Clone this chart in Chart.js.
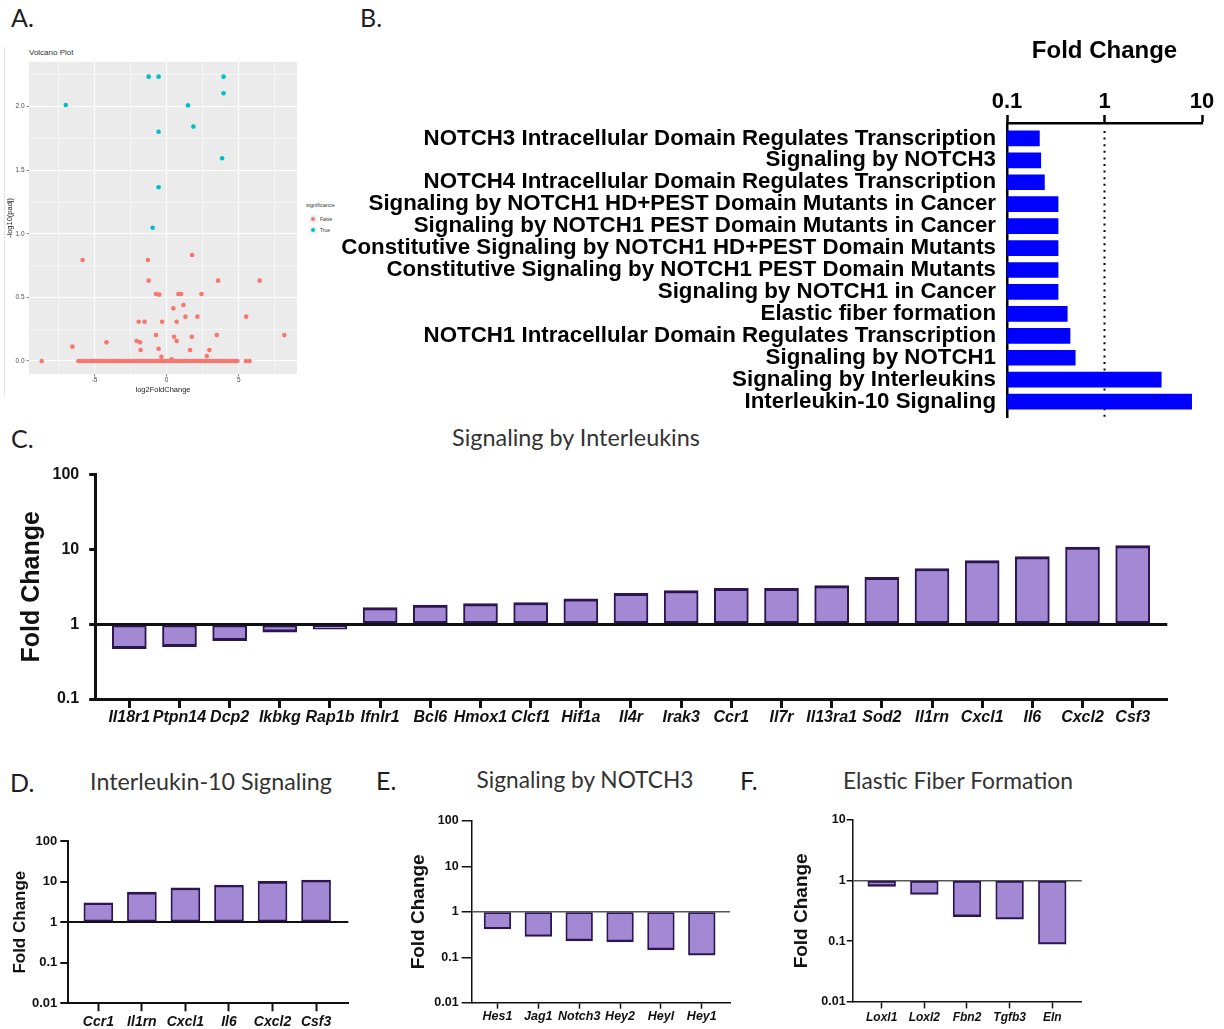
<!DOCTYPE html>
<html>
<head>
<meta charset="utf-8">
<title>Fold change panels</title>
<script src="https://cdn.jsdelivr.net/npm/chart.js@4.4.1/dist/chart.umd.min.js"></script>
<style>
  body { margin: 0; background: #fff; }
  #page { position: relative; width: 1224px; height: 1029px; overflow: hidden; }
  canvas { position: absolute; }
  .lbl { position: absolute; white-space: nowrap; line-height: 1; font-family: Lato, "Open Sans", sans-serif; color: #1e1e1e; }
  .letter { font-size: 25px; transform: translateY(-50%); }
  .head { font-size: 21px; color: #333; transform: translate(-50%, -50%); }
  .gg { font-family: "Liberation Sans", Arial, sans-serif; color: #333; transform: translateY(-50%); }
  .key { position: absolute; width: 8px; height: 8px; background: #f2f2f2; }
  .key i { position: absolute; left: 2px; top: 2px; width: 4px; height: 4px; border-radius: 50%; }
</style>
</head>
<body>
<div id="page">
  <div class="lbl letter" style="left:11px;top:17px">A.</div>
  <div class="lbl letter" style="left:360px;top:17px">B.</div>
  <div class="lbl letter" style="left:11px;top:438px">C.</div>
  <div class="lbl letter" style="left:10px;top:782px">D.</div>
  <div class="lbl letter" style="left:376px;top:780px">E.</div>
  <div class="lbl letter" style="left:740px;top:780px">F.</div>

  <div class="lbl head" data-w="248" style="left:576px;top:438px">Signaling by Interleukins</div>
  <div class="lbl head" data-w="242" style="left:211px;top:782px">Interleukin-10 Signaling</div>
  <div class="lbl head" data-w="217" style="left:585px;top:780px">Signaling by NOTCH3</div>
  <div class="lbl head" data-w="230" style="left:958px;top:780px">Elastic Fiber Formation</div>

  <div style="position:absolute;left:4px;top:47px;width:1px;height:350px;background:#e4e4e4"></div>
  <div class="lbl gg" style="left:29px;top:53px;font-size:8px">Volcano Plot</div>
  <div class="lbl gg" style="left:306px;top:206px;font-size:5.5px">significance</div>
  <div class="key" style="left:309px;top:215px"><i style="background:#F8766D"></i></div>
  <div class="key" style="left:309px;top:226px"><i style="background:#00BFC4"></i></div>
  <div class="lbl gg" style="left:320px;top:219px;font-size:5px">False</div>
  <div class="lbl gg" style="left:320px;top:230px;font-size:5px">True</div>

  <canvas id="volcano" width="345" height="355" style="left:0;top:45px"></canvas>
  <canvas id="pathways" width="894" height="442" style="left:330px;top:0"></canvas>
  <canvas id="interleukins" width="1224" height="300" style="left:0;top:450px"></canvas>
  <canvas id="il10" width="380" height="229" style="left:0;top:800px"></canvas>
  <canvas id="notch3" width="360" height="229" style="left:380px;top:800px"></canvas>
  <canvas id="elastic" width="484" height="229" style="left:740px;top:800px"></canvas>
</div>
<script>
Chart.defaults.font.family = '"Liberation Sans", Arial, sans-serif';
Chart.defaults.color = '#000';

// A. volcano plot (log2FoldChange vs -log10(padj))
var volSigX = [-6.99, -1.25, -0.56, 3.94, 3.94, 1.48, 1.85, -0.56, 3.84, -0.56, -0.97];
var volSigY = [2.013, 2.236, 2.236, 2.236, 2.105, 2.010, 1.843, 1.803, 1.594, 1.366, 1.048];
var volNsX = [-5.83, -1.30, 1.76, -1.25, 3.56, 6.44, -0.74, -0.51, 0.81, 1.00, 2.41, 1.16, 0.46, 1.30, 2.13, 5.51,
  -1.94, -1.53, -0.32, 0.69, -0.74, 0.51, 1.74, 3.47, 8.15, -6.53, -4.17, -2.08, -1.85, -1.81, -0.56, 0.69,
  1.62, 2.96, 2.78, -0.37, 0.35];
var volNsY = [0.794, 0.794, 0.834, 0.632, 0.632, 0.632, 0.527, 0.522, 0.527, 0.527, 0.527, 0.440, 0.414, 0.349, 0.349, 0.349,
  0.309, 0.309, 0.309, 0.309, 0.204, 0.191, 0.191, 0.204, 0.204, 0.113, 0.147, 0.157, 0.147, 0.087, 0.097, 0.157,
  0.087, 0.087, 0.039, 0.034, 0.013];
// genes sitting on padj = 1 (y = 0)
var volZeroX = [-8.66, -6.12, -5.95, -5.81, -5.66, -5.49, -5.31, -5.18, -5.02, -4.86, -4.71, -4.55, -4.38, -4.22, -4.07,
  -3.93, -3.76, -3.61, -3.44, -3.30, -3.13, -2.98, -2.82, -2.67, -2.51, -2.36, -2.20, -2.04, -1.90, -1.75, -1.60,
  -1.46, -1.31, -1.17, -1.02, -0.88, -0.74, -0.60, -0.47, -0.33, -0.20, -0.07, 0.06, 0.18, 0.31, 0.44, 0.57, 0.70,
  0.83, 0.96, 1.10, 1.24, 1.37, 1.52, 1.66, 1.80, 1.95, 2.10, 2.24, 2.39, 2.53, 2.68, 2.83, 2.98, 3.12, 3.27, 3.42,
  3.57, 3.72, 3.87, 4.02, 4.17, 4.33, 4.49, 4.64, 4.80, 4.90, 5.49, 5.74];
var volXTicks = [-7.5, -5, -2.5, 0, 2.5, 5, 7.5];
var volYTicks = [0, 0.25, 0.5, 0.75, 1, 1.25, 1.5, 1.75, 2, 2.25];

// B. enriched pathways
var pathways = [
  'NOTCH3 Intracellular Domain Regulates Transcription',
  'Signaling by NOTCH3',
  'NOTCH4 Intracellular Domain Regulates Transcription',
  'Signaling by NOTCH1 HD+PEST Domain Mutants in Cancer',
  'Signaling by NOTCH1 PEST Domain Mutants in Cancer',
  'Constitutive Signaling by NOTCH1 HD+PEST Domain Mutants',
  'Constitutive Signaling by NOTCH1 PEST Domain Mutants',
  'Signaling by NOTCH1 in Cancer',
  'Elastic fiber formation',
  'NOTCH1 Intracellular Domain Regulates Transcription',
  'Signaling by NOTCH1',
  'Signaling by Interleukins',
  'Interleukin-10 Signaling'
];
var pathwayFold = [0.215, 0.222, 0.242, 0.334, 0.334, 0.334, 0.334, 0.334, 0.415, 0.443, 0.501, 3.82, 7.83];
var pathwayTicks = [0.1, 1, 10];

// C. Signaling by Interleukins
var ilGenes = ['Il18r1', 'Ptpn14', 'Dcp2', 'Ikbkg', 'Rap1b', 'Ifnlr1', 'Bcl6', 'Hmox1', 'Clcf1', 'Hif1a', 'Il4r',
  'Irak3', 'Ccr1', 'Il7r', 'Il13ra1', 'Sod2', 'Il1rn', 'Cxcl1', 'Il6', 'Cxcl2', 'Csf3'];
var ilFold = [0.47, 0.50, 0.60, 0.78, 0.86, 1.66, 1.80, 1.88, 1.95, 2.18, 2.59,
  2.81, 3.02, 3.02, 3.28, 4.22, 5.55, 7.08, 8.0, 10.7, 11.2];
var ilTicks = [0.1, 1, 10, 100];

// D. Interleukin-10 Signaling
var il10Genes = ['Ccr1', 'Il1rn', 'Cxcl1', 'Il6', 'Cxcl2', 'Csf3'];
var il10Fold = [3.0, 5.5, 7.0, 8.2, 10.1, 10.9];
var il10Ticks = [0.01, 0.1, 1, 10, 100];

// E. Signaling by NOTCH3
var notchGenes = ['Hes1', 'Jag1', 'Notch3', 'Hey2', 'Heyl', 'Hey1'];
var notchFold = [0.42, 0.286, 0.23, 0.219, 0.146, 0.111];
var notchTicks = [0.01, 0.1, 1, 10, 100];

// F. Elastic Fiber Formation
var elasticGenes = ['Loxl1', 'Loxl2', 'Fbn2', 'Tgfb3', 'Eln'];
var elasticFold = [0.80, 0.59, 0.254, 0.23, 0.089];
var elasticTicks = [0.01, 0.1, 1, 10];

var BAR_FILL = '#a389d4';
var BAR_EDGE = '#2b1650';
var INK = '#111';

// shrink/grow the heading fonts to the widths seen in the figure
document.querySelectorAll('[data-w]').forEach(function (el) {
  var w = el.getBoundingClientRect().width;
  var fs = parseFloat(getComputedStyle(el).fontSize);
  el.style.fontSize = (fs * el.dataset.w / w).toFixed(2) + 'px';
});

function setTicks(list) {
  return function (s) { s.ticks = list.map(function (v) { return {value: v}; }); };
}

// ---- A ----
var ggPanel = {
  id: 'ggPanel',
  beforeDraw: function (chart) {
    var a = chart.chartArea, ctx = chart.ctx;
    ctx.save();
    ctx.fillStyle = '#ebebeb';
    ctx.fillRect(a.left, a.top, a.right - a.left, a.bottom - a.top);
    ctx.restore();
  }
};
function isMajor(v, step) { return Math.abs(v / step - Math.round(v / step)) < 1e-9; }

var nsPoints = volNsX.map(function (x, i) { return {x: x, y: volNsY[i]}; })
  .concat(volZeroX.map(function (x) { return {x: x, y: 0}; }));
var sigPoints = volSigX.map(function (x, i) { return {x: x, y: volSigY[i]}; });

new Chart(document.getElementById('volcano'), {
  type: 'scatter',
  data: {
    datasets: [
      {label: 'False', data: nsPoints, backgroundColor: '#F8766D', borderWidth: 0, pointRadius: 2.3},
      {label: 'True', data: sigPoints, backgroundColor: '#00BFC4', borderWidth: 0, pointRadius: 2.3}
    ]
  },
  options: {
    responsive: false,
    animation: false,
    layout: {padding: {left: 0, top: 17, right: 48, bottom: 0}},
    plugins: {legend: {display: false}, tooltip: {enabled: false}},
    scales: {
      x: {
        type: 'linear', min: -9.54, max: 9.03,
        afterBuildTicks: setTicks(volXTicks),
        afterFit: function (s) { s.height = 26; },
        ticks: {
          callback: function (v) { return isMajor(v, 5) ? String(v) : ''; },
          font: {size: 6.5}, color: '#4d4d4d', padding: 0, maxRotation: 0, autoSkip: false
        },
        grid: {
          color: '#fff',
          lineWidth: function (c) { return isMajor(c.tick.value, 5) ? 1.1 : 0.5; },
          tickLength: 2.5,
          tickColor: function (c) { return isMajor(c.tick.value, 5) ? '#333' : 'rgba(0,0,0,0)'; },
          tickWidth: 0.6
        },
        border: {display: false},
        title: {display: true, text: 'log2FoldChange', font: {size: 7.5}, color: '#222', padding: {top: 0, bottom: 5.5}}
      },
      y: {
        type: 'linear', min: -0.102, max: 2.351,
        afterBuildTicks: setTicks(volYTicks),
        afterFit: function (s) { s.width = 29; },
        ticks: {
          callback: function (v) { return isMajor(v, 0.5) ? v.toFixed(1) : ''; },
          font: {size: 6.5}, color: '#4d4d4d', padding: 2, autoSkip: false
        },
        grid: {
          color: '#fff',
          lineWidth: function (c) { return isMajor(c.tick.value, 0.5) ? 1.1 : 0.5; },
          tickLength: 2.5,
          tickColor: function (c) { return isMajor(c.tick.value, 0.5) ? '#333' : 'rgba(0,0,0,0)'; },
          tickWidth: 0.6
        },
        border: {display: false},
        title: {display: true, text: '-log10(padj)', font: {size: 7.5}, color: '#222', padding: {top: 5.5, bottom: 0}}
      }
    }
  },
  plugins: [ggPanel]
});

// ---- B ----
var dottedOne = {
  id: 'dottedOne',
  beforeDatasetsDraw: function (chart) {
    var a = chart.chartArea, ctx = chart.ctx;
    var px = chart.scales.x.getPixelForValue(1);
    ctx.save();
    ctx.strokeStyle = '#000';
    ctx.lineWidth = 2;
    ctx.setLineDash([2, 4.6]);
    ctx.beginPath();
    ctx.moveTo(px, a.top + 8);
    ctx.lineTo(px, a.bottom);
    ctx.stroke();
    ctx.restore();
  }
};

new Chart(document.getElementById('pathways'), {
  type: 'bar',
  data: {
    datasets: [{
      data: pathways.map(function (p, i) { return {x: pathwayFold[i], y: i}; }),
      backgroundColor: '#0000ff',
      borderWidth: 0,
      barThickness: 15
    }]
  },
  options: {
    indexAxis: 'y',
    responsive: false,
    animation: false,
    layout: {padding: {left: 0, top: 37, right: 22, bottom: 25}},
    plugins: {legend: {display: false}, tooltip: {enabled: false}},
    scales: {
      x: {
        type: 'logarithmic', position: 'top', min: 0.1, max: 10,
        afterBuildTicks: setTicks(pathwayTicks),
        afterFit: function (s) { s.height = 86; },
        ticks: {callback: function (v) { return String(v); }, padding: 0, color: '#000', font: {size: 22, weight: 'bold'}},
        grid: {drawOnChartArea: false, tickLength: 8, tickColor: '#000', tickWidth: 2.5},
        border: {color: '#000', width: 2.5},
        title: {display: true, text: 'Fold Change', color: '#000', font: {size: 24, weight: 'bold'}, padding: {top: 0, bottom: 0}}
      },
      y: {
        type: 'linear', reverse: true, min: -0.7, max: 12.7, offset: false,
        afterBuildTicks: setTicks(pathways.map(function (p, i) { return i; })),
        afterFit: function (s) { s.width = 677; },
        ticks: {
          callback: function (v) { return pathways[v]; },
          autoSkip: false, padding: 11, color: '#000', font: {size: 22.3, weight: 'bold'}
        },
        grid: {display: false, drawTicks: false, offset: false},
        border: {color: '#000', width: 2.5}
      }
    }
  },
  plugins: [dottedOne]
});

// ---- C, D, E, F: fold change of genes, bars grow from 1 on a log axis ----
function foldPanel(id, genes, fold, yTicks, g) {
  return new Chart(document.getElementById(id), {
    type: 'bar',
    data: {
      datasets: [{
        data: genes.map(function (n, i) { return {x: i, y: fold[i]}; }),
        base: 1,
        backgroundColor: BAR_FILL,
        borderColor: BAR_EDGE,
        borderSkipped: false,
        borderWidth: function (c) {
          var up = c.raw && c.raw.y >= 1;
          return {top: up ? g.endW : g.sideW, bottom: up ? g.sideW : g.endW, left: g.sideW, right: g.sideW};
        },
        barThickness: g.barW
      }]
    },
    options: {
      responsive: false,
      animation: false,
      layout: {padding: g.pad},
      plugins: {legend: {display: false}, tooltip: {enabled: false}},
      scales: {
        x: {
          type: 'linear', offset: false, min: -g.edgeL, max: genes.length - 1 + g.edgeR,
          afterBuildTicks: setTicks(genes.map(function (n, i) { return i; })),
          afterFit: function (s) { s.height = g.xH; },
          ticks: {
            callback: function (v) { return genes[v]; },
            autoSkip: false, maxRotation: 0, minRotation: 0, padding: g.xPad, color: INK,
            font: {size: g.xFont, weight: 'bold', style: 'italic'}
          },
          grid: {drawOnChartArea: false, offset: false, tickLength: g.xTick, tickColor: INK, tickWidth: g.axisW},
          border: {color: INK, width: g.axisW}
        },
        y: {
          type: 'logarithmic', min: yTicks[0], max: yTicks[yTicks.length - 1],
          afterBuildTicks: setTicks(yTicks),
          afterFit: function (s) { s.width = g.yW; },
          ticks: {callback: function (v) { return String(v); }, padding: g.yPad, color: INK, font: {size: g.yFont, weight: 'bold'}},
          grid: {
            color: function (c) { return c.tick && c.tick.value === 1 ? g.baseColor : 'rgba(0,0,0,0)'; },
            lineWidth: g.baseW,
            tickLength: g.yTick, tickColor: INK, tickWidth: g.axisW
          },
          border: {color: INK, width: g.axisW},
          title: {
            display: true, text: 'Fold Change', color: INK,
            font: {size: g.titleSize, weight: 'bold'}, padding: {top: g.titlePad, bottom: 0}
          }
        }
      }
    }
  });
}

foldPanel('interleukins', ilGenes, ilFold, ilTicks, {
  pad: {left: 0, top: 24.5, right: 56.7, bottom: 11}, yW: 95.2, xH: 40,
  edgeL: 0.68, edgeR: 0.69, barW: 34, sideW: 2, endW: 3,
  xTick: 9, xPad: 0, xFont: 16, yTick: 6, yPad: 10, yFont: 16,
  titleSize: 25, titlePad: 17, axisW: 3, baseW: 3, baseColor: INK
});

foldPanel('il10', il10Genes, il10Fold, il10Ticks, {
  pad: {left: 0, top: 41, right: 31.7, bottom: 0}, yW: 68.3, xH: 25.7,
  edgeL: 0.69, edgeR: 0.74, barW: 29, sideW: 1.8, endW: 2.6,
  xTick: 8, xPad: 2, xFont: 14, yTick: 8, yPad: 3, yFont: 13,
  titleSize: 17, titlePad: 10, axisW: 2, baseW: 2, baseColor: INK
});

foldPanel('notch3', notchGenes, notchFold, notchTicks, {
  pad: {left: 0, top: 21, right: 10, bottom: 0}, yW: 91.7, xH: 26.3,
  edgeL: 0.63, edgeR: 0.69, barW: 26.7, sideW: 1.8, endW: 2.4,
  xTick: 6, xPad: 0, xFont: 12.5, yTick: 10, yPad: 3, yFont: 12.5,
  titleSize: 19, titlePad: 26.9, axisW: 1.5, baseW: 1.5, baseColor: '#555'
});

foldPanel('elastic', elasticGenes, elasticFold, elasticTicks, {
  pad: {left: 0, top: 20, right: 142.3, bottom: 0}, yW: 112.7, xH: 27.3,
  edgeL: 0.68, edgeR: 0.69, barW: 27.7, sideW: 1.8, endW: 2.4,
  xTick: 6.7, xPad: 2, xFont: 12, yTick: 6, yPad: 1, yFont: 12.5,
  titleSize: 19, titlePad: 50.3, axisW: 1.5, baseW: 1.5, baseColor: '#555'
});
</script>
</body>
</html>
